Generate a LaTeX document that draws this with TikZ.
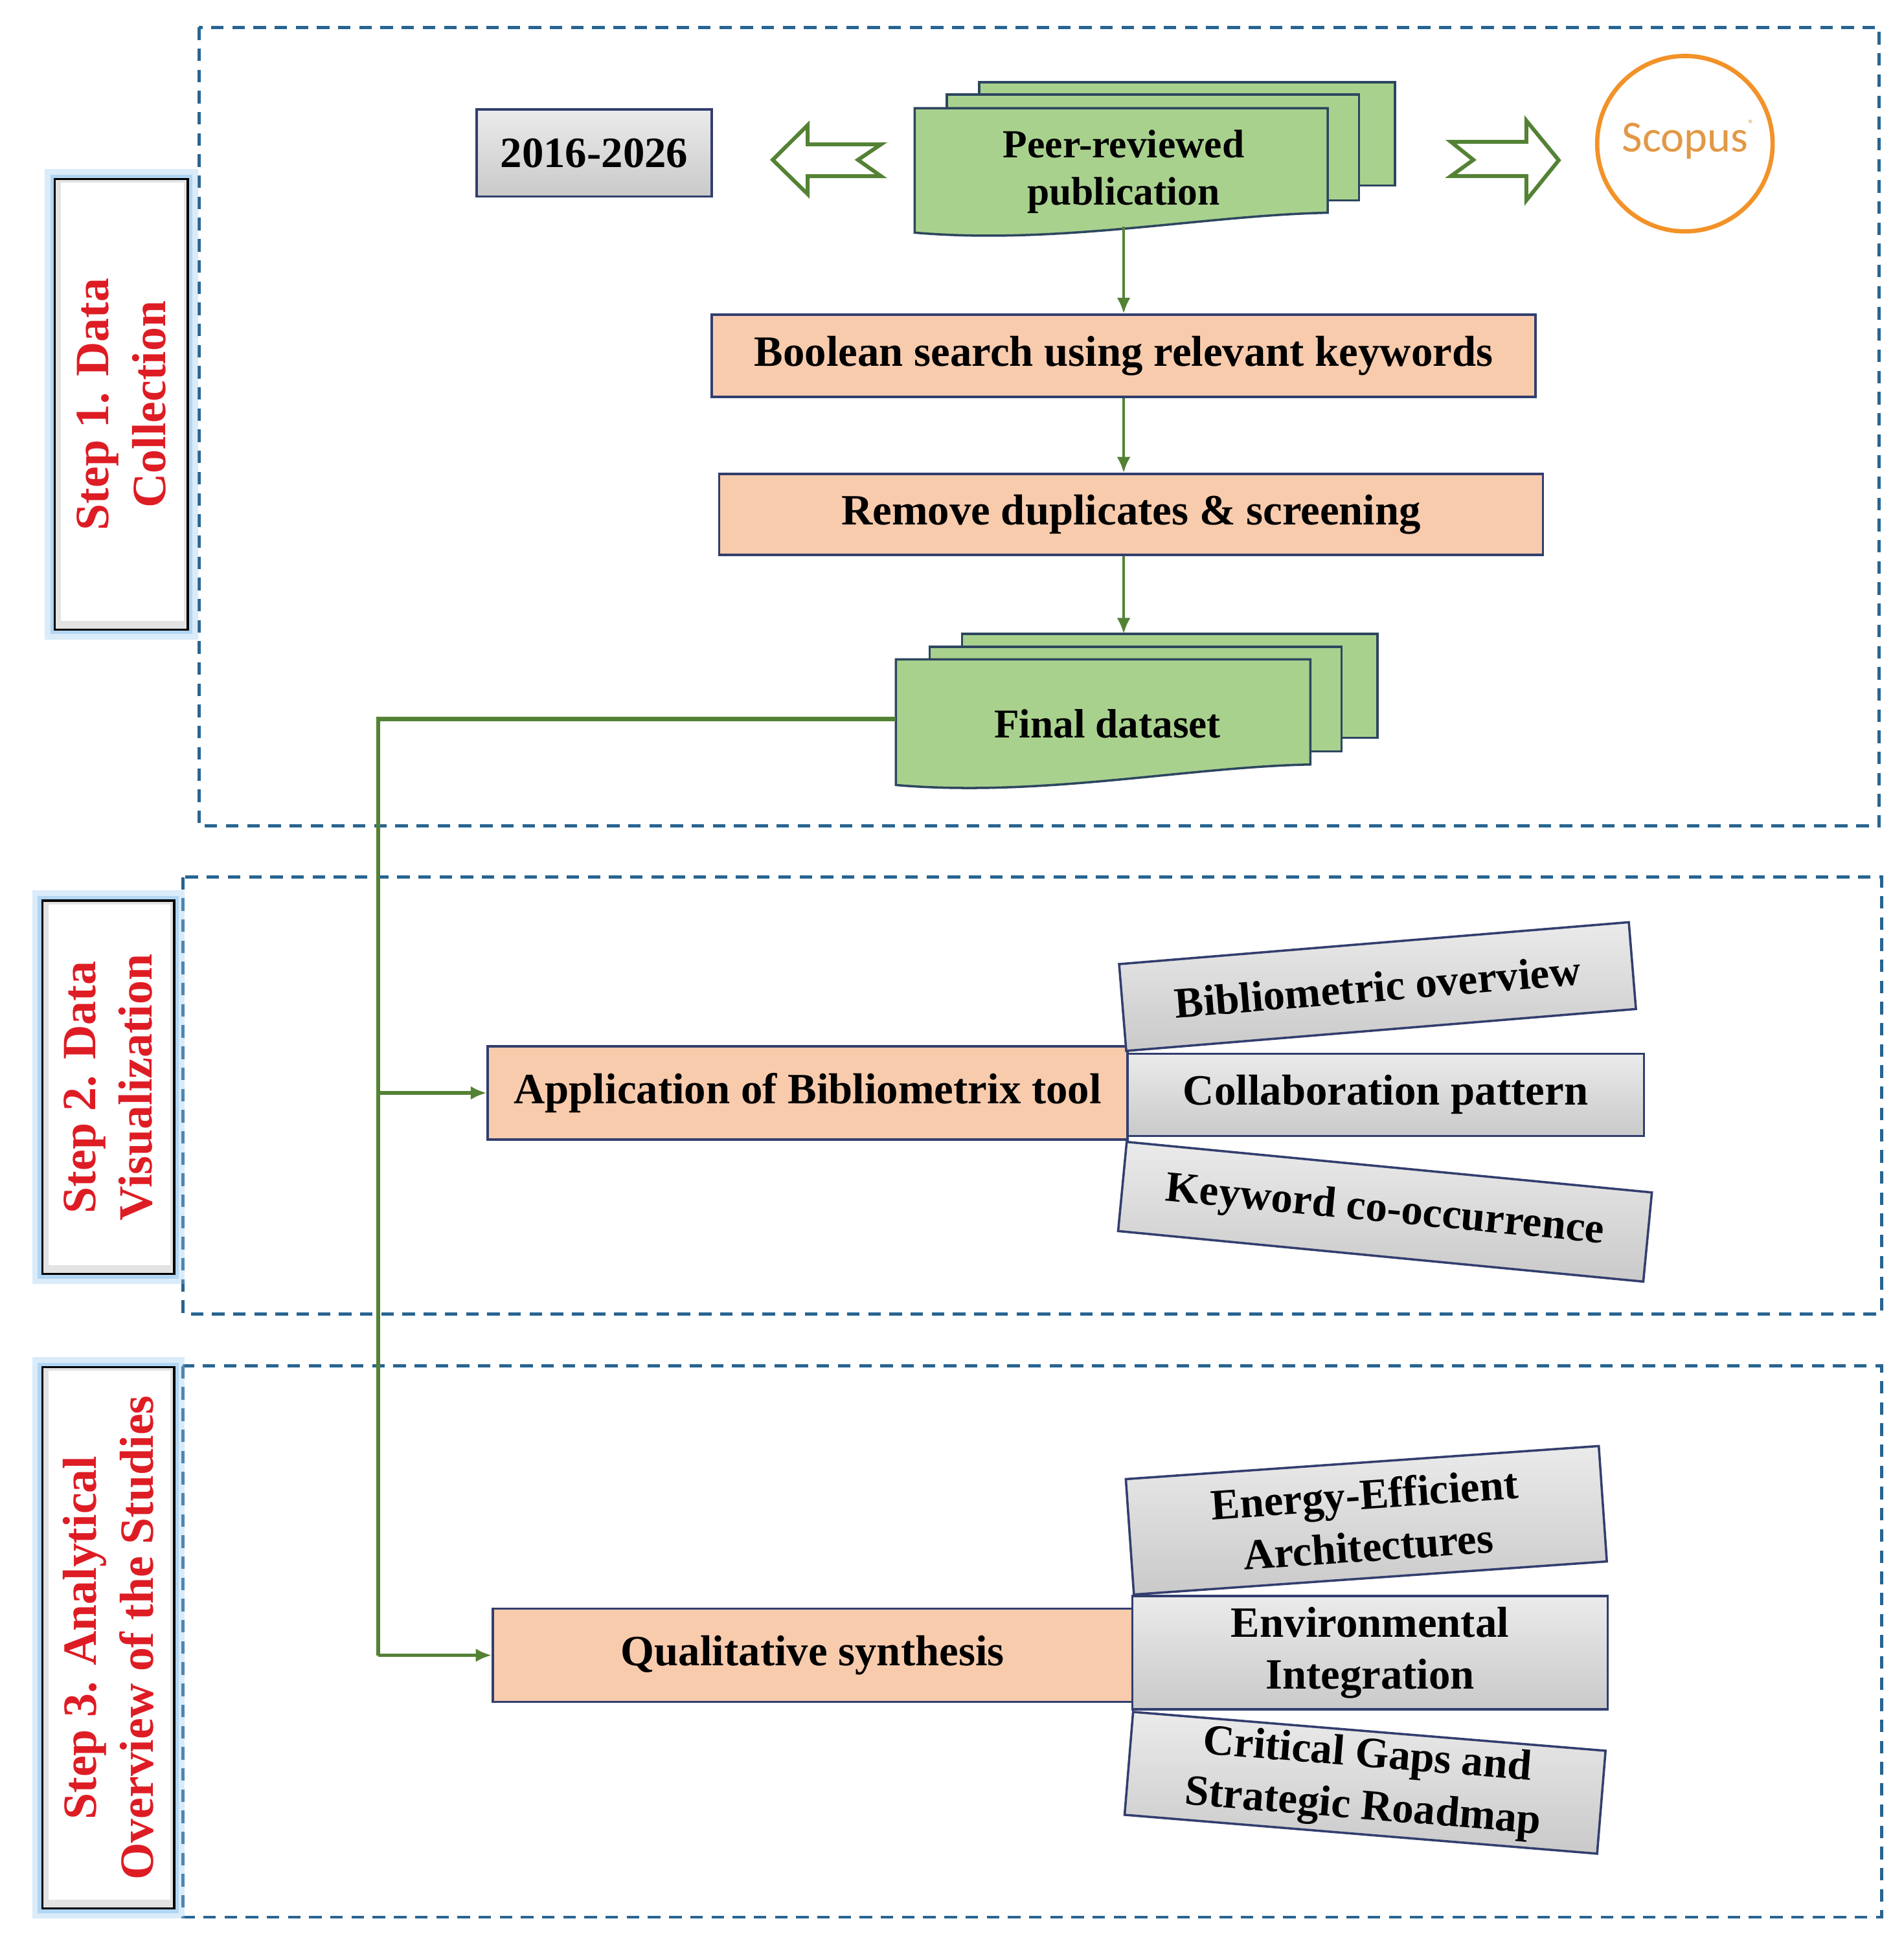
\documentclass[tikz,border=0pt]{standalone}
\usepackage{fontspec}
\setmainfont{Liberation Serif}
\newfontfamily\scopusfont{Carlito}
\usetikzlibrary{arrows.meta,calc}
\def\U{0.0192157cm}
\definecolor{dashblue}{RGB}{40,100,145}
\definecolor{navyb}{RGB}{50,62,110}
\definecolor{peach}{RGB}{248,203,173}
\definecolor{docgreen}{RGB}{169,209,142}
\definecolor{docedge}{RGB}{45,70,95}
\definecolor{lgreen}{RGB}{84,130,53}
\definecolor{stepred}{RGB}{222,28,36}
\definecolor{glow}{RGB}{150,200,240}
\definecolor{scorange}{RGB}{242,146,40}
\definecolor{sctext}{RGB}{226,152,70}
\tikzset{
  dashbox/.style={draw=dashblue, line width=1.4pt, dash pattern=on 5.5pt off 3.8pt},
  txt/.style={font=\fontsize{19}{23}\selectfont\bfseries, align=center, inner sep=0pt},
  orbox/.style={txt, rectangle, draw=navyb, line width=1pt, fill=peach},
  graybox/.style={txt, rectangle, draw=navyb, line width=1pt, top color=gray!16, bottom color=gray!42},
  docstyle/.style={draw=docedge, line width=1pt, fill=docgreen},
  gline/.style={draw=lgreen, line width=1.5pt},
  garrow/.style={gline, -{Latex[length=7pt,width=6pt]}},
  blockarrow/.style={draw=lgreen, line width=1.7pt, line join=miter, fill=white},
  steptxt/.style={font=\fontsize{21}{25}\selectfont\bfseries, text=stepred, align=center, rotate=90, inner sep=0pt},
}
\newcommand{\docwave}[5]{% x1 y1 x2 yL yR
  \filldraw[docstyle] (#1,#2) -- (#3,#2) -- (#3,#5)
    .. controls ({#1+0.7*(#3-#1)},{#5+2}) and ({#1+0.35*(#3-#1)},{#4+10}) .. (#1,#4) -- cycle;}
\newcommand{\stepbox}[5]{% x1 y1 x2 y2 name
  \draw[glow, opacity=0.35, line width=9pt] (#1,#2) rectangle (#3,#4);
  \draw[glow, opacity=0.6, line width=4pt] (#1,#2) rectangle (#3,#4);
  \fill[gray!22] (#1,#2) rectangle (#3,#4);
  \fill[white] ({#1+5},{#2+3}) rectangle ({#3-3},{#4-7});
  \draw[black, line width=1pt] (#1,#2) rectangle (#3,#4);
  \coordinate (#5) at ({(#1+#3)/2},{(#2+#4)/2});}
\begin{document}
\begin{tikzpicture}[x=\U, y=-\U]
\useasboundingbox (0,0) rectangle (1530,1563.4);
\fill[white] (0,0) rectangle (1530,1563.4);

% dashed frames
\draw[dashbox] (160,22) rectangle (1510,664);
\draw[dashbox] (147,705) rectangle (1512,1056);
\draw[dashbox] (147,1098) rectangle (1512,1541);

% step labels
\stepbox{44}{144}{151}{506}{s1c}
\node[steptxt] (s1) at (s1c) {Step 1. Data\\Collection};
\stepbox{34}{724}{140}{1024}{s2c}
\node[steptxt] (s2) at (s2c) {Step 2. Data\\Visualization};
\stepbox{34}{1099}{140}{1534}{s3c}
\node[steptxt] (s3) at (s3c) {Step 3. Analytical\\Overview of the Studies};

% year box
\node[graybox, minimum width={189*\U}, minimum height={70*\U}] (yr) at (477.5,123) {2016-2026};

% block arrows
\draw[blockarrow] (621,128.5) -- (649,100.6) -- (649,116) -- (708,116) -- (689.5,128.5)
  -- (708,141.6) -- (649,141.6) -- (649,156) -- cycle;
\draw[blockarrow] (1166,114) -- (1226.6,114) -- (1226.6,97) -- (1252.6,128.8) -- (1226.6,161)
  -- (1226.6,141.5) -- (1166,141.5) -- (1184,128.5) -- cycle;

% scopus
\node[circle, draw=scorange, line width=1.9pt, minimum size={141*\U}, inner sep=0pt] (scopus) at (1354,115.5) {};
\node[font=\scopusfont\fontsize{19.5}{22}\selectfont, text=sctext, inner sep=0pt] (scopustxt) at (1357,112) {Scopus\raisebox{0.9ex}{\fontsize{5}{6}\selectfont\textsuperscript{\textregistered}}};

% peer-reviewed multidocument
\filldraw[docstyle] (787,66) rectangle (1121,149);
\filldraw[docstyle] (761,76) rectangle (1092,161);
\docwave{735}{87}{1067}{187}{171}
\node[txt, font=\fontsize{17.5}{20.7}\selectfont\bfseries] (peer) at (903,138) {Peer-reviewed\\publication};
\coordinate (peerbot) at (903,182);

% process boxes
\node[orbox, minimum width={662*\U}, minimum height={66*\U}] (bool) at (903,286) {Boolean search using relevant keywords};
\node[orbox, minimum width={662*\U}, minimum height={65*\U}] (rem) at (909,413.5) {Remove duplicates \& screening};

% final dataset multidocument
\filldraw[docstyle] (773,509.5) rectangle (1107,593);
\filldraw[docstyle] (747,520) rectangle (1078,604);
\docwave{720}{530}{1053}{631}{614.5}
\node[txt, font=\fontsize{18}{21}\selectfont\bfseries] (final) at (890,582) {Final dataset};
\coordinate (finaltop) at (903,509.5);
\coordinate (fdl) at (720,578);
\coordinate (bus) at (304,578);

% step 2
\node[orbox, minimum width={514*\U}, minimum height={75*\U}] (app) at (649,878.5) {Application of Bibliometrix tool};
\node[graybox, minimum width={415*\U}, minimum height={66*\U}] (collab) at (1113.5,880) {Collaboration pattern};
\node[graybox, rotate=4.7, minimum width={411*\U}, minimum height={70*\U}] (biblio) at (1107,793) {Bibliometric overview};
\node[graybox, rotate=-5.5, minimum width={424*\U}, minimum height={72*\U}] (keyw) at (1113,974) {Keyword co-occurrence};

% step 3
\node[orbox, minimum width={514*\U}, minimum height={75*\U}] (qual) at (653,1330.5) {Qualitative synthesis};
\node[graybox, minimum width={382*\U}, minimum height={91*\U}] (env) at (1101,1328.5) {Environmental\\Integration};
\node[graybox, rotate=4, minimum width={381*\U}, minimum height={93*\U}] (energy) at (1098,1222) {Energy-Efficient\\Architectures};
\node[graybox, rotate=-4.7, minimum width={381*\U}, minimum height={83*\U}] (crit) at (1097,1433) {Critical Gaps and\\Strategic Roadmap};

% connectors
\draw[garrow, line width=1.2pt] (peerbot) -- (peerbot |- bool.north);
\draw[garrow, line width=1.2pt] (bool.south) -- (bool.south |- rem.north);
\draw[garrow, line width=1.2pt] (rem.south -| finaltop) -- (finaltop);
\draw[gline, line width=1.8pt] (fdl) -- (bus) -- (bus |- qual.west);
\draw[garrow] (bus |- app.west) -- (app.west);
\draw[garrow] (bus |- qual.west) -- (qual.west);
\end{tikzpicture}
\end{document}
